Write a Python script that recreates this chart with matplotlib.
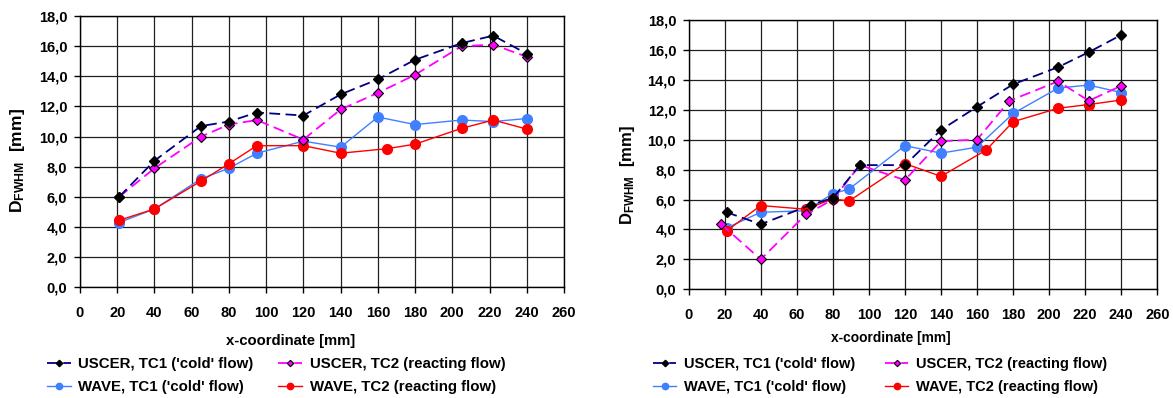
import numpy as np
import matplotlib
matplotlib.use('Agg')
import matplotlib.pyplot as plt
from matplotlib.ticker import FuncFormatter

plt.rcParams['font.family'] = ['Liberation Sans', 'DejaVu Sans']
plt.rcParams['font.weight'] = 'bold'
plt.rcParams['mathtext.fontset'] = 'custom'
plt.rcParams['mathtext.rm'] = 'Liberation Sans:bold'
plt.rcParams['mathtext.it'] = 'Liberation Sans:bold'
plt.rcParams['mathtext.bf'] = 'Liberation Sans:bold'

# left panel
l_uscer_tc1_x = [21, 40, 65, 80, 95, 120, 140, 160, 180, 205, 222, 240]
l_uscer_tc1_y = [6.0, 8.4, 10.7, 11.0, 11.6, 11.4, 12.8, 13.8, 15.1, 16.2, 16.7, 15.5]
l_uscer_tc2_x = [21, 40, 65, 80, 95, 120, 140, 160, 180, 205, 222, 240]
l_uscer_tc2_y = [6.0, 7.9, 10.0, 10.8, 11.1, 9.8, 11.8, 12.9, 14.1, 16.0, 16.1, 15.3]
l_wave_tc1_x = [21, 40, 65, 80, 95, 120, 140, 160, 180, 205, 222, 240]
l_wave_tc1_y = [4.3, 5.2, 7.2, 7.9, 8.9, 9.7, 9.3, 11.3, 10.8, 11.1, 11.0, 11.2]
l_wave_tc2_x = [21, 40, 65, 80, 95, 120, 140, 165, 180, 205, 222, 240]
l_wave_tc2_y = [4.45, 5.2, 7.05, 8.2, 9.4, 9.4, 8.9, 9.2, 9.5, 10.55, 11.1, 10.5]

# right panel
r_uscer_tc1_x = [21, 40, 68, 80, 95, 120, 140, 160, 180, 205, 222, 240]
r_uscer_tc1_y = [5.15, 4.35, 5.65, 6.1, 8.3, 8.3, 10.65, 12.2, 13.7, 14.85, 15.85, 17.0]
r_uscer_tc2_x = [18, 40, 65, 80, 95, 120, 140, 160, 178, 205, 222, 240]
r_uscer_tc2_y = [4.35, 2.0, 5.0, 6.0, 8.3, 7.3, 9.9, 10.0, 12.6, 13.9, 12.6, 13.6]
r_wave_tc1_x = [21, 40, 65, 80, 89, 120, 140, 160, 180, 205, 222, 240]
r_wave_tc1_y = [4.1, 5.15, 5.25, 6.4, 6.7, 9.6, 9.1, 9.5, 11.75, 13.45, 13.65, 13.15]
r_wave_tc2_x = [21, 40, 65, 80, 89, 120, 140, 165, 180, 205, 222, 240]
r_wave_tc2_y = [3.9, 5.6, 5.35, 6.05, 5.9, 8.4, 7.55, 9.3, 11.2, 12.1, 12.35, 12.65]

labels = ["USCER, TC1 ('cold' flow)", "USCER, TC2 (reacting flow)",
          "WAVE, TC1 ('cold' flow)", "WAVE, TC2 (reacting flow)"]

NAVY = '#000080'
MAGENTA = '#FF00FF'
BLUE = '#4080FF'
RED = '#FF0000'


def draw_panel(ax, series, xlab_pos, xlab_size, ylab_pos, ylab_size):
    (x1, y1), (x2, y2), (x3, y3), (x4, y4) = series
    h1, = ax.plot(x1, y1, color=NAVY, ls=(0, (6, 3)), lw=1.3, marker='D', ms=5,
                  mfc='black', mec='black', zorder=4)
    h2, = ax.plot(x2, y2, color=MAGENTA, ls=(0, (6, 3)), lw=1.3, marker='D', ms=5,
                  mfc=MAGENTA, mec='black', mew=0.8, zorder=3)
    h3, = ax.plot(x3, y3, color=BLUE, lw=1.0, marker='o', ms=7,
                  mfc=BLUE, mec=BLUE, zorder=2)
    h4, = ax.plot(x4, y4, color=RED, lw=1.0, marker='o', ms=7,
                  mfc=RED, mec=RED, zorder=2)

    ax.set_xlim(0, 260)
    ax.set_ylim(0, 18)
    ax.set_xticks(np.arange(0, 261, 20))
    ax.set_yticks(np.arange(0, 18.1, 2))
    ax.yaxis.set_major_formatter(FuncFormatter(lambda v, p: f'{v:.1f}'.replace('.', ',')))
    ax.grid(True, color='#202020', lw=0.9)
    ax.set_axisbelow(True)
    for s in ax.spines.values():
        s.set_color('black')
        s.set_linewidth(1.0)
    ax.tick_params(axis='both', direction='out', length=4, width=1, labelsize=10.5)
    ax.tick_params(axis='x', pad=9.5)
    ax.tick_params(axis='y', pad=5)
    for t in ax.get_xticklabels() + ax.get_yticklabels():
        t.set_fontweight('bold')
    ax.set_xlabel('x-coordinate [mm]', fontsize=xlab_size, fontweight='bold')
    ax.xaxis.set_label_coords(*xlab_pos)
    ax.set_ylabel(r'D$_{\rm FWHM}$  [mm]', fontsize=ylab_size, fontweight='bold')
    ax.yaxis.set_label_coords(*ylab_pos)
    return [h1, h3, h2, h4]


fig = plt.figure(figsize=(11.73, 3.98), dpi=100)
ax_l = fig.add_axes([0.0682, 0.278, 0.4126, 0.6817])
ax_r = fig.add_axes([0.5871, 0.2731, 0.3995, 0.6767])

hl = draw_panel(ax_l, [(l_uscer_tc1_x, l_uscer_tc1_y), (l_uscer_tc2_x, l_uscer_tc2_y),
                       (l_wave_tc1_x, l_wave_tc1_y), (l_wave_tc2_x, l_wave_tc2_y)],
                (0.436, -0.172), 10.7, (-0.1095, 0.469), 12.6)
hr = draw_panel(ax_r, [(r_uscer_tc1_x, r_uscer_tc1_y), (r_uscer_tc2_x, r_uscer_tc2_y),
                       (r_wave_tc1_x, r_wave_tc1_y), (r_wave_tc2_x, r_wave_tc2_y)],
                (0.431, -0.155), 9.9, (-0.110, 0.424), 12)

leg_labels = [labels[0], labels[2], labels[1], labels[3]]
for h, anchor, fs, cs in [(hl, (0.040, 0.103), 10.8, 1.63), (hr, (0.5566, 0.103), 10.5, 2.08)]:
    fig.legend(h, leg_labels, ncol=2, loc='upper left', bbox_to_anchor=anchor,
               frameon=False, prop={'size': fs, 'weight': 'bold'}, markerscale=0.65,
               handlelength=1.6, handletextpad=0.5, columnspacing=cs,
               labelspacing=0.6, borderpad=0, borderaxespad=0)

fig.savefig('out.png', dpi=100)
